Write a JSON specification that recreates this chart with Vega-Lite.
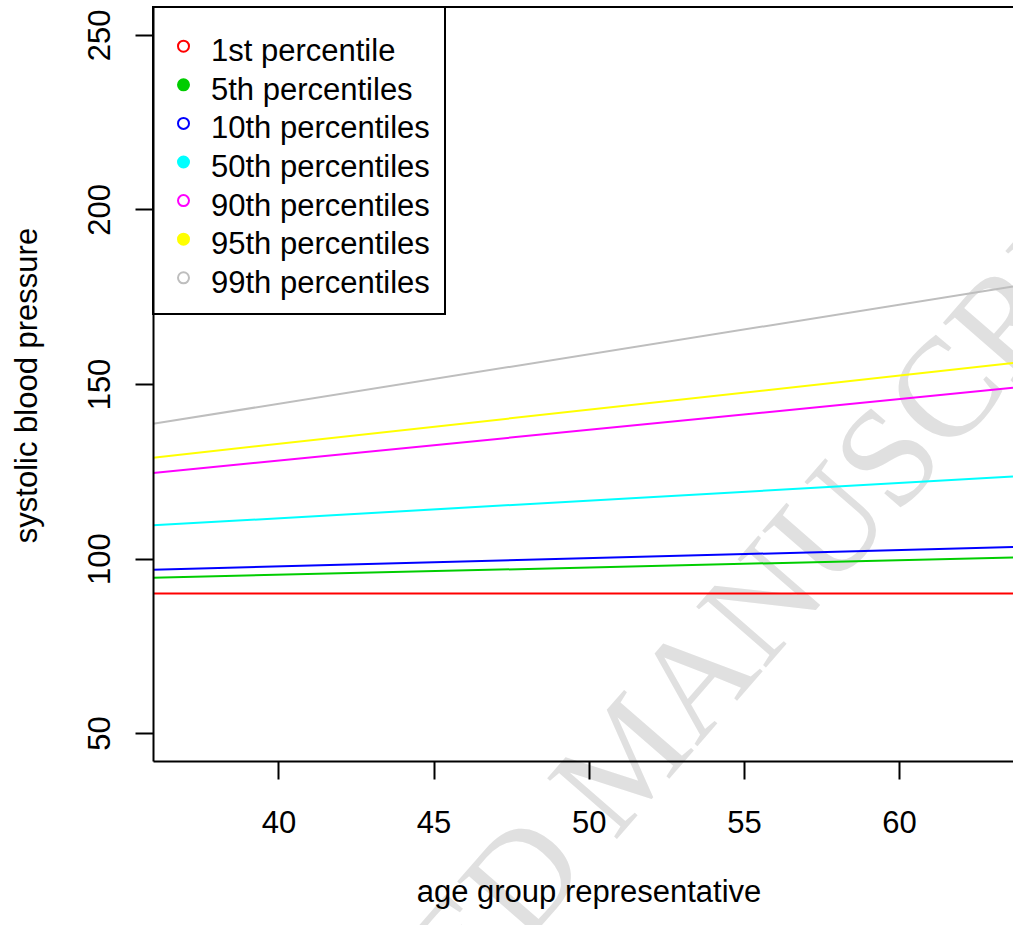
{
  "$schema": "https://vega.github.io/schema/vega-lite/v6.json",
  "width": 860,
  "height": 754,
  "autosize": "none",
  "padding": {"left": 153, "top": 7, "right": 0, "bottom": 164},
  "background": "white",
  "config": {"view": {"stroke": null}, "font": "Liberation Sans"},
  "data": {
    "values": [
      {"series": "1st percentile", "age": 35.96, "sbp": 90.0},
      {"series": "1st percentile", "age": 63.67, "sbp": 90.0},
      {"series": "5th percentiles", "age": 35.96, "sbp": 94.5},
      {"series": "5th percentiles", "age": 63.67, "sbp": 100.3},
      {"series": "10th percentiles", "age": 35.96, "sbp": 96.8},
      {"series": "10th percentiles", "age": 63.67, "sbp": 103.3},
      {"series": "50th percentiles", "age": 35.96, "sbp": 109.5},
      {"series": "50th percentiles", "age": 63.67, "sbp": 123.5},
      {"series": "90th percentiles", "age": 35.96, "sbp": 124.5},
      {"series": "90th percentiles", "age": 63.67, "sbp": 148.9},
      {"series": "95th percentiles", "age": 35.96, "sbp": 128.9},
      {"series": "95th percentiles", "age": 63.67, "sbp": 156.0},
      {"series": "99th percentiles", "age": 35.96, "sbp": 138.6},
      {"series": "99th percentiles", "age": 63.67, "sbp": 177.9}
    ]
  },
  "layer": [
    {
      "data": {"values": [{}]},
      "mark": {"type": "text", "font": "Liberation Serif", "fontSize": 141, "color": "#e0e0e0", "angle": 311, "align": "center", "baseline": "middle"},
      "encoding": {
        "x": {"datum": 51.33, "type": "quantitative"},
        "y": {"datum": 42.4, "type": "quantitative"},
        "text": {"value": "ACCEPTED MANUSCRIPT"}
      }
    },
    {
      "mark": {"type": "line", "strokeWidth": 2, "clip": true},
      "encoding": {
        "x": {
          "field": "age", "type": "quantitative",
          "scale": {"domain": [35.96, 63.67], "nice": false, "zero": false},
          "axis": {
            "zindex": 1,
            "values": [40, 45, 50, 55, 60], "title": "age group representative", "grid": false,
            "tickSize": 18, "tickWidth": 2, "tickColor": "black", "domainColor": "black", "domainWidth": 2,
            "labelBaseline": "alphabetic", "labelPadding": 53.7, "labelFontSize": 31, "labelColor": "black",
            "labelFont": "Liberation Sans", "labelFlush": false, "labelOverlap": false,
            "titleFontSize": 31, "titleFont": "Liberation Sans", "titleFontWeight": "normal", "titleColor": "black",
            "titleBaseline": "alphabetic", "titleX": 435.5, "titleY": 140.7, "titleAlign": "center"
          }
        },
        "y": {
          "field": "sbp", "type": "quantitative",
          "scale": {"domain": [42, 258], "nice": false, "zero": false},
          "axis": {
            "zindex": 1,
            "values": [50, 100, 150, 200, 250], "title": "systolic blood pressure", "grid": false,
            "tickSize": 18, "tickWidth": 2, "tickColor": "black", "domainColor": "black", "domainWidth": 2,
            "labelAngle": 270, "labelAlign": "center", "labelBaseline": "alphabetic", "labelPadding": 25.7,
            "labelFontSize": 31, "labelColor": "black", "labelFont": "Liberation Sans", "labelFlush": false, "labelOverlap": false,
            "titleFontSize": 31, "titleFont": "Liberation Sans", "titleFontWeight": "normal", "titleColor": "black",
            "titleAngle": 270, "titleBaseline": "alphabetic", "titleX": -117, "titleY": 378, "titleAlign": "center"
          }
        },
        "color": {
          "field": "series", "type": "nominal",
          "scale": {
            "domain": ["1st percentile", "5th percentiles", "10th percentiles", "50th percentiles", "90th percentiles", "95th percentiles", "99th percentiles"],
            "range": ["#FF0000", "#00CD00", "#0000FF", "#00FFFF", "#FF00FF", "#FFFF00", "#BEBEBE"]
          },
          "legend": {
            "title": " ", "titleFontSize": 1, "titlePadding": 7.7,
            "orient": "top-left", "offset": 0,
            "symbolType": "circle", "symbolSize": 121, "symbolStrokeWidth": 2,
            "labelFontSize": 31, "labelFont": "Liberation Sans", "labelColor": "black", "labelLimit": 500,
            "labelOffset": 12, "rowPadding": 1.6, "padding": 15,
            "strokeColor": "black", "fillColor": "white", "labelBaseline": "middle",
            "encode": {
              "legend": {"update": {"strokeWidth": {"value": 2}}},
              "symbols": {"update": {
                "fill": {"signal": "indexof(['5th percentiles','50th percentiles','95th percentiles'], datum.value) >= 0 ? scale('color', datum.value) : 'white'"},
                "stroke": {"scale": "color", "field": "value"}
              }},
              "labels": {"update": {"dy": {"value": 6}}}
            }
          }
        }
      }
    },
    {
      "mark": {"type": "rule", "color": "black", "strokeWidth": 2},
      "encoding": {"y": {"datum": 258, "type": "quantitative"}}
    }
  ]
}
